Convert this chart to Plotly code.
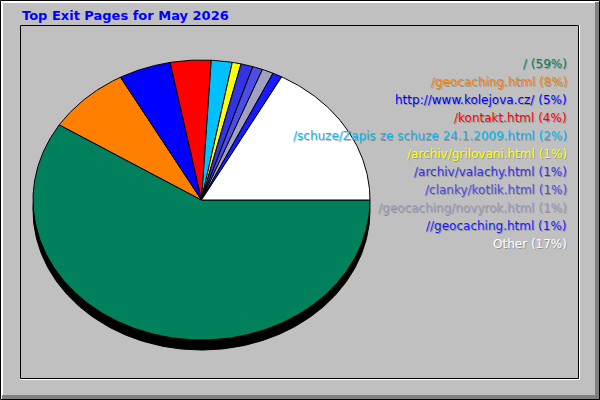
import numpy as np
import plotly.graph_objects as go

# --- data ---
pages = ['/', '/geocaching.html', 'http://www.kolejova.cz/', '/kontakt.html',
         '/schuze/Zapis ze schuze 24.1.2009.html', '/archiv/grilovani.html',
         '/archiv/valachy.html', '/clanky/kotlik.html', '/geocaching/novyrok.html',
         '//geocaching.html', 'Other']
share = [59.0, 8.0, 5.0, 3.9, 2.0, 0.85, 1.15, 0.97, 1.08, 0.92, 17.1]
colors = ['#00805c', '#ff8000', '#0000ff', '#ff0000', '#00c0ff', '#ffff00',
          '#3333e6', '#4d4de6', '#a0a0c0', '#1a1aff', '#ffffff']
title = 'Top Exit Pages for May 2026'

# pie geometry in pixel units of the 600x400 canvas
cx, cy, rx, ry, depth = 201.5, 200, 168.5, 140, 10

fig = go.Figure()

# 3d edge under the pie
t = np.linspace(0, 2 * np.pi, 400)
fig.add_trace(go.Scatter(x=cx + rx * np.cos(t), y=cy + depth + ry * np.sin(t),
                         fill='toself', fillcolor='black', mode='lines',
                         line=dict(color='black', width=1), hoverinfo='skip'))

total = sum(share)
start = 0.0
for name, v, c in zip(pages, share, colors):
    a0 = 2 * np.pi * start / total
    a1 = 2 * np.pi * (start + v) / total
    t = np.linspace(a0, a1, max(4, int(v * 6)))
    xs = np.concatenate([[cx], cx + rx * np.cos(t), [cx]])
    ys = np.concatenate([[cy], cy + ry * np.sin(t), [cy]])
    fig.add_trace(go.Scatter(x=xs, y=ys, fill='toself', fillcolor=c, mode='lines',
                             line=dict(color='black', width=1), name=name,
                             hoverinfo='name'))
    start += v

# legend labels on the right, with a faint drop shadow
ann = []
for i, (name, v, c) in enumerate(zip(pages, share, colors)):
    txt = '%s (%d%%)' % (name, round(v / total * 100))
    y = 64 + 18 * i
    ann.append(dict(x=570, y=y + 1, xref='x', yref='y', text=txt, showarrow=False,
                    xanchor='right', yanchor='middle',
                    font=dict(family='DejaVu Sans', size=12, color='rgba(0,0,0,0.25)')))
    ann.append(dict(x=569, y=y, xref='x', yref='y', text=txt, showarrow=False,
                    xanchor='right', yanchor='middle',
                    font=dict(family='DejaVu Sans', size=12, color=c)))
ann.append(dict(x=20, y=15, xref='x', yref='y', text='<b>%s</b>' % title,
                showarrow=False, xanchor='left', yanchor='middle',
                font=dict(family='DejaVu Sans', size=13, color='#0000ff')))

# frame: raised outer border, sunken inner panel
shapes = [
    dict(type='rect', x0=0, y0=0, x1=600, y1=3, fillcolor='white', line_width=0, layer='below'),
    dict(type='rect', x0=0, y0=0, x1=3, y1=400, fillcolor='white', line_width=0, layer='below'),
    dict(type='rect', x0=595, y0=2, x1=600, y1=400, fillcolor='#808080', line_width=0, layer='below'),
    dict(type='rect', x0=2, y0=395, x1=600, y1=400, fillcolor='#808080', line_width=0, layer='below'),
    dict(type='rect', x0=0.5, y0=0.5, x1=599.5, y1=399.5, line=dict(color='black', width=1), layer='below'),
    dict(type='rect', x0=20.5, y0=25.5, x1=579.5, y1=379.5, line=dict(color='white', width=1), layer='below'),
    dict(type='rect', x0=20.5, y0=25.5, x1=578.5, y1=378.5, line=dict(color='black', width=1), layer='below'),
    dict(type='rect', x0=21, y0=26, x1=578, y1=378, fillcolor='#c0c0c0', line_width=0, layer='below'),
]

fig.update_layout(
    width=600, height=400, margin=dict(l=0, r=0, t=0, b=0),
    paper_bgcolor='#c0c0c0', plot_bgcolor='#c0c0c0', showlegend=False,
    xaxis=dict(range=[0, 600], visible=False, fixedrange=True),
    yaxis=dict(range=[400, 0], visible=False, fixedrange=True),
    annotations=ann, shapes=shapes,
)
# the page body has a default 8px margin; drop it so the chart fills the window
fig.write_html('out.html', post_script="document.body.style.margin='0';",
               config={'displayModeBar': False})
